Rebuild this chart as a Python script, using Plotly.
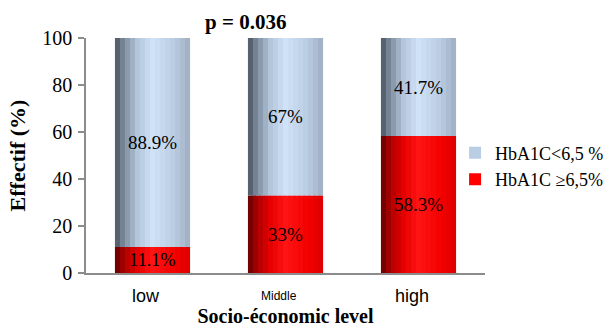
import numpy as np
import plotly.graph_objects as go

# Data
categories = ["low", "Middle", "high"]
hba1c_high = [11.1, 33, 58.3]    # HbA1C >= 6,5 %
hba1c_low = [88.9, 67, 41.7]     # HbA1C < 6,5 %
high_labels = ["11.1%", "33%", "58.3%"]
low_labels = ["88.9%", "67%", "41.7%"]
tick_labels = ["low", "Middle", "high"]
tick_sizes = [18, 12, 18]

SERIF = "Liberation Serif, Times New Roman, serif"
SANS = "Liberation Sans, Arial, sans-serif"

BAR_W = 0.565
N_SLICES = 15

# horizontal shading stops (position across bar, rgb)
blue_stops = [(0.0, (72, 82, 94)), (0.12, (125, 140, 158)), (0.3, (180, 198, 220)),
              (0.5, (208, 226, 248)), (0.8, (186, 203, 225)), (1.0, (158, 173, 193))]
red_stops = [(0.0, (95, 0, 0)), (0.12, (170, 0, 0)), (0.3, (230, 0, 0)),
             (0.5, (255, 20, 20)), (0.8, (245, 0, 0)), (1.0, (220, 0, 0))]


def shade(stops, t):
    pos = [s[0] for s in stops]
    rgb = [np.interp(t, pos, [s[1][k] for s in stops]) for k in range(3)]
    return "rgb(%d,%d,%d)" % tuple(int(round(v)) for v in rgb)


fig = go.Figure()

w = BAR_W / N_SLICES
for i in range(N_SLICES):
    t = (i + 0.5) / N_SLICES
    off = -BAR_W / 2 + i * w
    # last slice must not run past the bar's right edge
    sw = w if i == N_SLICES - 1 else w * 1.6
    fig.add_trace(go.Bar(
        x=categories, y=hba1c_high, base=[0] * len(categories),
        width=sw, offset=off, marker=dict(color=shade(red_stops, t), line_width=0),
        showlegend=False, hoverinfo="skip"))
    fig.add_trace(go.Bar(
        x=categories, y=hba1c_low, base=hba1c_high,
        width=sw, offset=off, marker=dict(color=shade(blue_stops, t), line_width=0),
        showlegend=False, hoverinfo="skip"))

# value labels on transparent full-width bars
for vals, base, labels, name in [
        (hba1c_high, [0] * len(categories), high_labels, "HbA1C ≥6,5%"),
        (hba1c_low, hba1c_high, low_labels, "HbA1C<6,5 %")]:
    fig.add_trace(go.Bar(
        x=categories, y=vals, base=base, width=BAR_W, offset=-BAR_W / 2,
        marker=dict(color="rgba(0,0,0,0)", line_width=0), text=labels,
        textposition="inside", insidetextanchor="middle", textangle=0,
        textfont=dict(family=SERIF, size=19, color="black"), showlegend=False,
        name=name, hoverinfo="skip"))

# legend entries
fig.add_trace(go.Scatter(x=[None], y=[None], mode="markers", name="HbA1C<6,5 %",
                         marker=dict(symbol="square", size=11, color="#b9cde5"),
                         legendgroup="a"))
fig.add_trace(go.Scatter(x=[None], y=[None], mode="markers", name="HbA1C ≥6,5%",
                         marker=dict(symbol="square", size=11, color="#ff0000"),
                         legendgroup="b"))

# category labels under the axis (sizes differ per category)
annotations = [
    dict(text=lab, x=cat, y=0, xref="x", yref="y", xanchor="center", yanchor="middle",
         xshift=-7, yshift=-23, showarrow=False,
         font=dict(family=SANS, size=sz, color="black"))
    for cat, lab, sz in zip(categories, tick_labels, tick_sizes)
]
annotations.append(dict(text="<b>p = 0.036</b>", x=(245 - 86) / 399, y=(273 - 22) / 235,
                        xref="paper", yref="paper", xanchor="center", yanchor="middle",
                        showarrow=False, font=dict(family=SERIF, size=21, color="black")))

fig.update_layout(
    width=614, height=327,
    margin=dict(l=86, r=129, t=38, b=54, autoexpand=False),
    paper_bgcolor="white", plot_bgcolor="white",
    barmode="overlay",
    legend=dict(x=0.925, y=0.455, xanchor="left", yanchor="middle",
                font=dict(family=SERIF, size=18, color="black"),
                tracegroupgap=11, itemsizing="constant", traceorder="normal",
                itemwidth=30, bgcolor="rgba(0,0,0,0)"),
    xaxis=dict(type="category", categoryorder="array", categoryarray=categories,
               range=[-0.5, 2.5], showticklabels=False,
               showline=True, linecolor="#8c8c8c", linewidth=1.5, ticks="",
               automargin=False,
               title=dict(text="<b>Socio-économic level</b>",
                          font=dict(family=SERIF, size=20, color="black"), standoff=39),
               showgrid=False, zeroline=False),
    yaxis=dict(range=[0, 100], tickvals=[0, 20, 40, 60, 80, 100],
               showline=True, linecolor="#8c8c8c", linewidth=1.5,
               ticks="outside", ticklen=6, tickcolor="#8c8c8c", tickwidth=1.5,
               ticklabelstandoff=2, automargin=False,
               tickfont=dict(family=SERIF, size=20, color="black"),
               title=dict(text="<b>Effectif (%)</b>",
                          font=dict(family=SERIF, size=22, color="black"), standoff=11),
               showgrid=False, zeroline=False),
    annotations=annotations,
)

fig.write_html("out.html")
